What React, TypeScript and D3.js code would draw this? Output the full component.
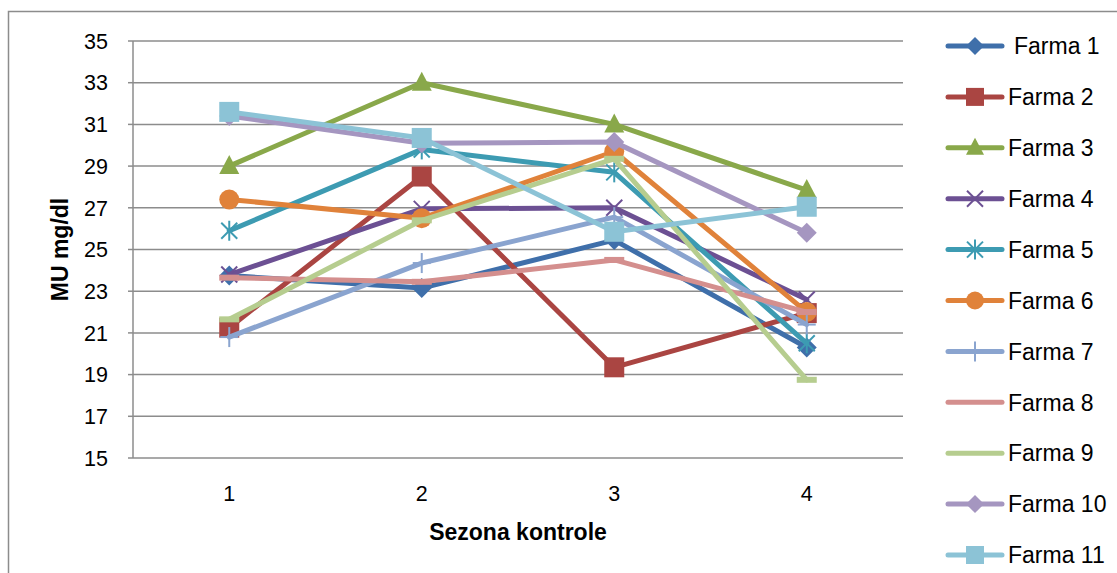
import React from "react";
import * as d3 from "d3";

const categories = ["1", "2", "3", "4"];
const yTicks = [15, 17, 19, 21, 23, 25, 27, 29, 31, 33, 35];
const seriesNames = ["Farma 1", "Farma 2", "Farma 3", "Farma 4", "Farma 5", "Farma 6", "Farma 7", "Farma 8", "Farma 9", "Farma 10", "Farma 11"];
const farma1 = [23.75, 23.15, 25.45, 20.3];
const farma2 = [21.25, 28.5, 19.35, 21.95];
const farma3 = [29.0, 33.0, 31.0, 27.85];
const farma4 = [23.8, 26.95, 27.0, 22.6];
const farma5 = [25.9, 29.8, 28.7, 20.5];
const farma6 = [27.4, 26.5, 29.7, 22.0];
const farma7 = [20.8, 24.35, 26.55, 21.4];
const farma8 = [23.65, 23.45, 24.5, 22.0];
const farma9 = [21.65, 26.4, 29.35, 18.75];
const farma10 = [31.4, 30.1, 30.15, 25.8];
const farma11 = [31.6, 30.35, 25.85, 27.05];
const seriesValues = [farma1, farma2, farma3, farma4, farma5, farma6, farma7, farma8, farma9, farma10, farma11];
const colors = ["#3F6FAA", "#AA4542", "#89A84A", "#6C5093", "#3D9BB2", "#E0823A", "#8AA4CF", "#D48F8E", "#B6CD8F", "#A596C0", "#8CC3D6"];
const markers = ["diamond", "square", "triangle", "x", "star", "circle", "plus", "dash", "dash", "diamond", "square"];

const W = 1117;
const H = 573;
const plotL = 133, plotR = 903, plotT = 41, plotB = 458;
const FONT = "'Liberation Sans', Arial, sans-serif";

function Marker({ type, cx, cy, color, legend }: { type: string; cx: number; cy: number; color: string; legend?: boolean }) {
  const s = legend ? 9 : 10;
  switch (type) {
    case "diamond":
      return <path d={`M${cx},${cy - s} L${cx + s},${cy} L${cx},${cy + s} L${cx - s},${cy} Z`} fill={color} />;
    case "square":
      return <rect x={cx - s} y={cy - s} width={2 * s} height={2 * s} fill={color} />;
    case "triangle":
      return <path d={`M${cx},${cy - s - 1} L${cx + s},${cy + s - 2} L${cx - s},${cy + s - 2} Z`} fill={color} />;
    case "circle":
      return <circle cx={cx} cy={cy} r={s} fill={color} />;
    case "x":
      return (
        <g stroke={color} strokeWidth={2}>
          <line x1={cx - 8} y1={cy - 8} x2={cx + 8} y2={cy + 8} />
          <line x1={cx - 8} y1={cy + 8} x2={cx + 8} y2={cy - 8} />
        </g>
      );
    case "star":
      return (
        <g stroke={color} strokeWidth={2}>
          <line x1={cx - 8} y1={cy - 8} x2={cx + 8} y2={cy + 8} />
          <line x1={cx - 8} y1={cy + 8} x2={cx + 8} y2={cy - 8} />
          <line x1={cx} y1={cy - 10} x2={cx} y2={cy + 10} />
        </g>
      );
    case "plus":
      return (
        <g stroke={color} strokeWidth={2}>
          <line x1={cx - 9} y1={cy} x2={cx + 9} y2={cy} />
          <line x1={cx} y1={cy - 10} x2={cx} y2={cy + 10} />
        </g>
      );
    case "dash":
      return <rect x={cx - 10} y={cy - 3} width={20} height={6} fill={color} />;
    default:
      return null;
  }
}

export default function App() {
  const x = d3.scaleBand<string>().domain(categories).range([plotL, plotR]);
  const y = d3.scaleLinear().domain([15, 35]).range([plotB, plotT]);
  const cx = (c: string) => (x(c) as number) + x.bandwidth() / 2;
  const line = d3
    .line<number>()
    .x((_, i) => cx(categories[i]))
    .y((v) => y(v));

  const legendX1 = 948, legendX2 = 1002, legendY0 = 46, legendStep = 50.9;

  return (
    <svg width={W} height={H} style={{ position: "absolute", left: 0, top: 0, display: "block" }}>
      <rect x={0} y={0} width={W} height={H} fill="#fff" />
      <path d={`M8.5,${H} L8.5,11.5 L${W},11.5`} fill="none" stroke="#8c8c8c" strokeWidth={1.5} />
      {yTicks.map((t) => (
        <line key={t} x1={plotL} x2={plotR} y1={y(t)} y2={y(t)} stroke="#8c8c8c" strokeWidth={1.5} />
      ))}
      <line x1={plotL} x2={plotL} y1={plotT} y2={plotB} stroke="#8c8c8c" strokeWidth={1.5} />
      {yTicks.map((t) => (
        <line key={"tk" + t} x1={plotL - 5} x2={plotL} y1={y(t)} y2={y(t)} stroke="#8c8c8c" strokeWidth={1.5} />
      ))}
      {yTicks.map((t) => (
        <text key={"l" + t} x={108} y={y(t)} dy="0.36em" textAnchor="end" fontFamily={FONT} fontSize={21.5} fill="#000">
          {t}
        </text>
      ))}
      {categories.map((c) => (
        <text key={c} x={cx(c)} y={493} dy="0.36em" textAnchor="middle" fontFamily={FONT} fontSize={21.5} fill="#000">
          {c}
        </text>
      ))}
      <text x={518} y={532} dy="0.36em" textAnchor="middle" fontFamily={FONT} fontSize={23} fontWeight="bold" fill="#000">
        Sezona kontrole
      </text>
      <text
        transform={`translate(60,${(plotT + plotB) / 2}) rotate(-90)`}
        dy="0.36em"
        textAnchor="middle"
        fontFamily={FONT}
        fontSize={23}
        fontWeight="bold"
        fill="#000"
      >
        MU mg/dl
      </text>
      {seriesValues.map((vals, si) => (
        <g key={si}>
          <path d={line(vals) || ""} fill="none" stroke={colors[si]} strokeWidth={5} strokeLinejoin="round" strokeLinecap="round" />
          {vals.map((v, i) => (
            <Marker key={i} type={markers[si]} cx={cx(categories[i])} cy={y(v)} color={colors[si]} />
          ))}
        </g>
      ))}
      {seriesNames.map((n, i) => {
        const ly = legendY0 + i * legendStep;
        return (
          <g key={n}>
            <line x1={legendX1} x2={legendX2} y1={ly} y2={ly} stroke={colors[i]} strokeWidth={5} strokeLinecap="round" />
            {markers[i] !== "dash" && <Marker type={markers[i]} cx={(legendX1 + legendX2) / 2} cy={ly} color={colors[i]} legend />}
            <text x={i === 0 ? 1014 : 1008} y={ly} dy="0.36em" fontFamily={FONT} fontSize={23} fill="#000">
              {n}
            </text>
          </g>
        );
      })}
    </svg>
  );
}
